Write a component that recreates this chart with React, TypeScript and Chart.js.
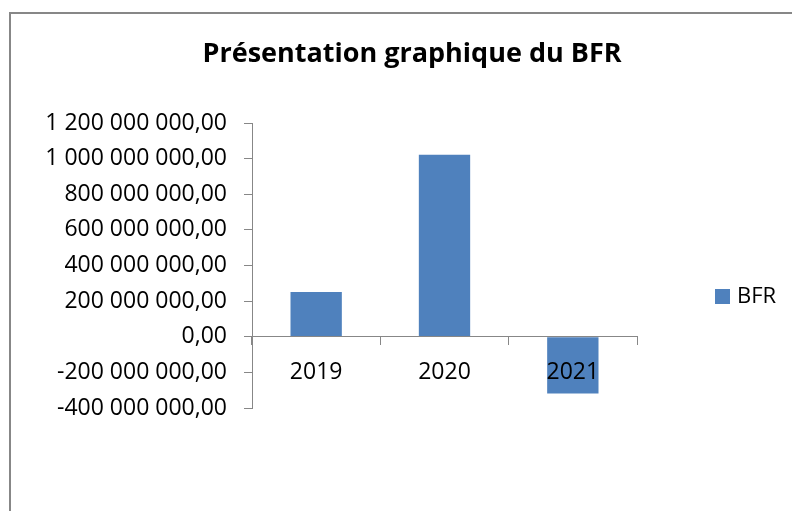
import React, { useEffect, useRef } from "react";
import { Chart, registerables } from "chart.js";

Chart.register(...registerables);

const categories = ["2019", "2020", "2021"];
const seriesLabel = "BFR";
const bfrValues = [251000000, 1022000000, -318000000];
const yMin = -400000000;
const yMax = 1200000000;
const yStep = 200000000;
const chartTitle = "Présentation graphique du BFR";

const FONT = "'Open Sans', 'DejaVu Sans', sans-serif";
const BAR_COLOR = "#4F81BD";
const AXIS_COLOR = "#878787";

function formatFr(v: number): string {
  const neg = v < 0;
  const s = Math.round(Math.abs(v))
    .toString()
    .replace(/\B(?=(\d{3})+(?!\d))/g, " ");
  return (neg ? "-" : "") + s + ",00";
}

const framePlugin = {
  id: "frame",
  beforeDraw(chart: any) {
    const ctx = chart.ctx;
    ctx.save();
    ctx.fillStyle = "#ffffff";
    ctx.fillRect(0, 0, chart.width, chart.height);
    ctx.fillStyle = AXIS_COLOR;
    ctx.fillRect(9, 12, 2, chart.height - 12);
    ctx.fillRect(9, 12, chart.width - 9, 2);
    ctx.fillStyle = "#000000";
    ctx.font = `bold 27px ${FONT}`;
    ctx.textBaseline = "alphabetic";
    ctx.textAlign = "center";
    ctx.fillText(chartTitle, 412, 62);
    ctx.restore();
  },
  afterDraw(chart: any) {
    const ctx = chart.ctx;
    const ds = chart.data.datasets[0];
    ctx.save();
    ctx.fillStyle = ds.backgroundColor;
    ctx.fillRect(715, 289, 15, 15);
    ctx.fillStyle = "#000000";
    ctx.font = `22px ${FONT}`;
    ctx.textBaseline = "middle";
    ctx.textAlign = "left";
    ctx.fillText(ds.label, 737, 297);
    ctx.restore();
  },
};

export default function App() {
  const ref = useRef<HTMLCanvasElement | null>(null);
  useEffect(() => {
    if (!ref.current) return;
    const chart = new Chart(ref.current, {
      type: "bar",
      data: {
        labels: categories,
        datasets: [
          {
            label: seriesLabel,
            data: bfrValues,
            backgroundColor: BAR_COLOR,
            borderWidth: 0,
            barPercentage: 0.4,
            categoryPercentage: 1,
          },
        ],
      },
      options: {
        responsive: false,
        animation: false,
        layout: { padding: { left: 0, right: 155, top: 123, bottom: 103 } },
        plugins: {
          legend: { display: false },
          tooltip: { enabled: false },
          title: { display: false },
        },
        scales: {
          x: {
            position: { y: 0 } as any,
            offset: true,
            grid: {
              offset: true,
              drawOnChartArea: false,
              drawTicks: true,
              tickLength: 8,
              color: AXIS_COLOR,
              z: 1,
            },
            border: { display: true, color: AXIS_COLOR, width: 1, z: 1 },
            ticks: {
              color: "#000000",
              font: { family: FONT, size: 23 },
              padding: 14,
              maxRotation: 0,
              autoSkip: false,
              z: 2,
            },
            afterFit(s: any) {
              s.height = 0;
            },
          },
          y: {
            min: yMin,
            max: yMax,
            grid: {
              drawOnChartArea: false,
              drawTicks: true,
              tickLength: 8,
              color: AXIS_COLOR,
            },
            border: { display: true, color: AXIS_COLOR, width: 1 },
            ticks: {
              stepSize: yStep,
              color: "#000000",
              font: { family: FONT, size: 23 },
              padding: 17,
              callback: (v: any) => formatFr(Number(v)),
            },
            afterFit(s: any) {
              s.width = 252;
            },
          },
        },
      },
      plugins: [framePlugin],
    });
    return () => chart.destroy();
  }, []);
  return (
    <div style={{ position: "fixed", left: 0, top: 0, width: 792, height: 511 }}>
      <canvas ref={ref} width={792} height={511} style={{ display: "block" }} />
    </div>
  );
}
